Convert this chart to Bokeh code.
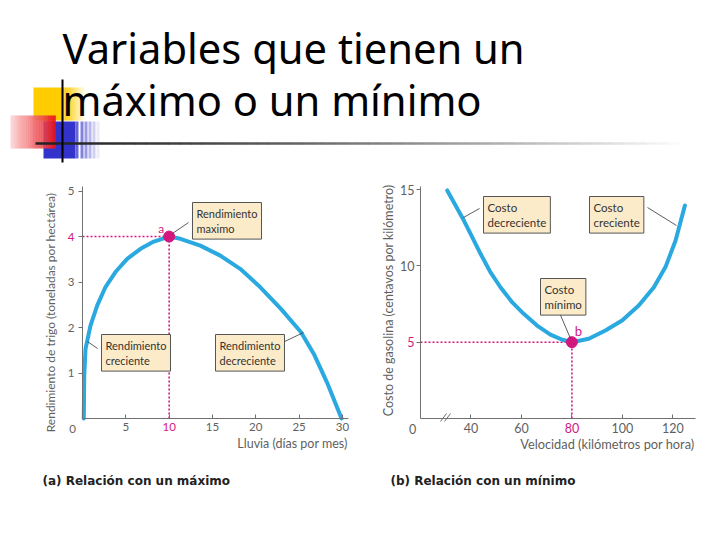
import numpy as np
from bokeh.plotting import figure
from bokeh.layouts import column, row
from bokeh.models import Range1d, Label, FixedTicker, CustomJSTickFormatter
from bokeh.embed import file_html
from bokeh.resources import INLINE
from bokeh.core.properties import value

# ---------------- data ----------------
title_lines = ["Variables que tienen un", "máximo o un mínimo"]
captions = ["(a) Relación con un máximo", "(b) Relación con un mínimo"]

# (a) wheat yield vs rainfall
rain = [0.15, 0.2, 0.35, 0.92, 1.69, 2.65, 3.8, 5.16, 6.7, 8.23, 10.0, 11.3, 13.6, 15.9,
        18.2, 20.5, 22.9, 25.2, 26.7, 28.2, 29.9]
wheat = [0.0, 0.95, 1.53, 2.04, 2.48, 2.89, 3.22, 3.51, 3.73, 3.89, 4.0, 3.95, 3.8, 3.58,
         3.29, 2.89, 2.41, 1.9, 1.42, 0.8, 0.0]
max_rain = [10]
max_wheat = [4]
a_xticks = [5, 10, 15, 20, 25, 30]
a_yticks = [1, 2, 3, 4, 5]
a_xlabel = "Lluvia (días por mes)"
a_ylabel = "Rendimiento de trigo (toneladas por hectárea)"

# (b) gasoline cost vs speed
speed = [30.6, 33.9, 37.2, 40.5, 43.8, 47.7, 51.7, 56.3, 60.9, 66.2, 71.5, 76.2, 80.0,
         86.7, 93.3, 99.9, 106.5, 112.5, 117.1, 121.1, 124.8]
cost = [14.94, 13.96, 12.97, 11.88, 10.79, 9.59, 8.6, 7.62, 6.86, 6.09, 5.5, 5.16, 5.0,
        5.22, 5.77, 6.42, 7.4, 8.6, 9.92, 11.66, 13.96]
min_speed = [80]
min_cost = [5]
b_xticks = [40, 60, 80, 100, 120]
b_yticks = [5, 10, 15]
b_xlabel = "Velocidad (kilómetros por hora)"
b_ylabel = "Costo de gasolina (centavos por kilómetro)"

# ---------------- style ----------------
BLUE = "#2aa8e0"
MAG = "#d2177f"
BOX = "#fcebc9"
GREY = "#5f5f5f"
AXC = "#707070"
TFONT = "Lato"


def hexc(c):
    c = c.lstrip("#")
    return np.array([int(c[i:i + 2], 16) for i in (0, 2, 4)], dtype=float)


def mix(c0, c1, t):
    a, b = hexc(c0), hexc(c1)
    m = a + (b - a) * t
    return "#%02x%02x%02x" % tuple(int(round(v)) for v in m)


def hgrad(p, x0, x1, y0, y1, c0, c1, n=24, alpha=1.0):
    xs = np.linspace(x0, x1, n + 1)
    cols = [mix(c0, c1, t) for t in np.linspace(0, 1, n)]
    p.quad(left=xs[:-1], right=xs[1:] + 0.3, top=y0, bottom=y1,
           fill_color=cols, line_color=None, fill_alpha=alpha)


# ---------------- top (title) ----------------
top = figure(width=728, height=180, x_range=Range1d(0, 728), y_range=Range1d(180, 0),
             output_backend="svg", toolbar_location=None, x_axis_type=None,
             y_axis_type=None, min_border=0)
top.outline_line_color = None

top.quad(left=33, right=64, top=87, bottom=120, fill_color="#ffcc00", line_color=None)
hgrad(top, 64, 86, 87, 120, "#ffcc00", "#ffffff", n=12)
top.quad(left=43, right=75, top=121, bottom=158, fill_color="#3333cc", line_color=None)
for i, xs in enumerate([75, 80, 84, 88, 92, 96]):
    top.quad(left=xs, right=xs + 3, top=121, bottom=158,
             fill_color=mix("#3333cc", "#ffffff", 0.25 + 0.13 * i), line_color=None)
hgrad(top, 10, 55, 115, 148, "#fbd3d3", "#e8141c", n=24, alpha=0.92)
xs_rule = np.linspace(35, 690, 60)
top.segment(x0=xs_rule[:-1], x1=xs_rule[1:] + 0.5, y0=143, y1=143,
            line_color=[mix("#222222", "#ffffff", t ** 1.3) for t in np.linspace(0, 1, 59)],
            line_width=2.5)
top.segment(x0=62, x1=62, y0=79, y1=162, line_color="black", line_width=2)

top.text(x=[62, 62], y=[47, 99], text=title_lines, text_font=value("Noto Sans"),
         text_font_size="41.7px", text_color="black", text_baseline="alphabetic")


# ---------------- chart panels ----------------
# each panel's frame fills the whole figure; axes sit at fixed data positions
def make_fig(width, xr, yr, x0, y0, xb, yb):
    p = figure(width=width, height=275, x_range=Range1d(*xr), y_range=Range1d(*yr),
               output_backend="svg", toolbar_location=None, min_border=0)
    p.outline_line_color = None
    p.grid.visible = False
    p.xaxis.fixed_location = y0
    p.yaxis.fixed_location = x0
    p.xaxis.bounds = xb
    p.yaxis.bounds = yb
    for ax in (p.xaxis, p.yaxis):
        ax.axis_line_color = AXC
        ax.major_tick_line_color = AXC
        ax.minor_tick_line_color = None
        ax.major_label_text_color = GREY
        ax.major_label_text_font = TFONT
        ax.major_label_standoff = 4
    p.xaxis.major_tick_in = 4
    p.xaxis.major_tick_out = 0
    p.yaxis.major_tick_in = 0
    p.yaxis.major_tick_out = 4
    return p


def callout(p, x, y, txt, size="11px"):
    p.add_layout(Label(x=x, y=y, text=txt, text_font=TFONT, text_font_size=size,
                       text_color="#333333", text_align="left", text_baseline="top",
                       background_fill_color=BOX, border_line_color="#555555",
                       border_line_width=1, padding=4))


def lab(p, x, y, txt, size="11.5px", color=GREY, align="center", baseline="middle", angle=0):
    p.add_layout(Label(x=x, y=y, text=txt, text_font=TFONT, text_font_size=size,
                       text_color=color, text_align=align, text_baseline=baseline,
                       angle=angle, angle_units="deg"))


# ---- chart a (page x 0..360, y 180..455)
ax_a = lambda px: (px - 82) / 266 * 30.7
ay_a = lambda py: (418 - py) / 232 * 5.1
pa = make_fig(360, (ax_a(0), ax_a(360)), (ay_a(455), ay_a(180)), 0, 0, (0, 30.7), (0, 5.1))

pa.xaxis.ticker = FixedTicker(ticks=a_xticks)
pa.yaxis.ticker = FixedTicker(ticks=a_yticks)
pa.xaxis.formatter = CustomJSTickFormatter(code="return tick == %d ? '' : String(tick);" % max_rain[0])
pa.yaxis.formatter = CustomJSTickFormatter(code="return tick == %d ? '' : String(tick);" % max_wheat[0])
pa.xaxis.major_label_text_font_size = "11.5px"
pa.yaxis.major_label_text_font_size = "11.5px"

pa.line([0, max_rain[0]], [max_wheat[0], max_wheat[0]], line_color=MAG, line_width=1.6, line_dash="2 2")
pa.line([max_rain[0], max_rain[0]], [0, max_wheat[0]], line_color=MAG, line_width=1.6, line_dash="2 2")
pa.line(rain, wheat, line_color=BLUE, line_width=4, line_join="round", line_cap="round")
pa.scatter(max_rain, max_wheat, size=11, color=MAG)

pa.segment(x0=[ax_a(188), ax_a(97), ax_a(280)], y0=[ay_a(222), ay_a(348), ay_a(343)],
           x1=[ax_a(172), ax_a(87), ax_a(303)], y1=[ay_a(233), ay_a(341), ay_a(332)],
           line_color="#333333", line_width=0.8)

callout(pa, ax_a(192), ay_a(202), "Rendimiento\nmaximo")
callout(pa, ax_a(101), ay_a(334), "Rendimiento\ncreciente")
callout(pa, ax_a(215), ay_a(334), "Rendimiento\ndecreciente")
lab(pa, max_rain[0] - 0.9, max_wheat[0] + 0.17, "a", size="12px", color=MAG)
lab(pa, ax_a(74), max_wheat[0], str(max_wheat[0]), color=MAG, align="right")
lab(pa, max_rain[0], ay_a(422), str(max_rain[0]), color=MAG, baseline="top")
lab(pa, ax_a(72), ay_a(428), "0")
lab(pa, ax_a(347), ay_a(443), a_xlabel, size="12.5px", align="right")
lab(pa, ax_a(50), ay_a(312), a_ylabel, size="12px", angle=90)

# ---- chart b (page x 360..728, y 180..455)
bx = lambda px: 20 + (px - 420) / 275 * 109
by = lambda py: (418 - py) / 232 * 15.2
pb = make_fig(368, (bx(360), bx(728)), (by(455), by(180)), 20, 0, (20, 129), (0, 15.2))

pb.xaxis.ticker = FixedTicker(ticks=b_xticks)
pb.yaxis.ticker = FixedTicker(ticks=b_yticks)
pb.xaxis.formatter = CustomJSTickFormatter(code="return tick == %d ? '' : String(tick);" % min_speed[0])
pb.yaxis.formatter = CustomJSTickFormatter(code="return tick == %d ? '' : String(tick);" % min_cost[0])
pb.xaxis.major_label_text_font_size = "12.5px"
pb.yaxis.major_label_text_font_size = "12.5px"
pb.yaxis.major_label_standoff = 2

pb.line([20, min_speed[0]], [min_cost[0], min_cost[0]], line_color=MAG, line_width=1.6, line_dash="2 2")
pb.line([min_speed[0], min_speed[0]], [0, min_cost[0]], line_color=MAG, line_width=1.6, line_dash="2 2")
pb.line(speed, cost, line_color=BLUE, line_width=4, line_join="round", line_cap="round")
pb.scatter(min_speed, min_cost, size=11, color=MAG)

pb.segment(x0=[bx(479), bx(647), bx(558)], y0=[by(208), by(207), by(310)],
           x1=[bx(463), bx(676), bx(570)], y1=[by(217), by(225), by(338)],
           line_color="#333333", line_width=0.8)

callout(pb, bx(483), by(196), "Costo\ndecreciente", size="11.5px")
callout(pb, bx(589), by(196), "Costo\ncreciente", size="11.5px")
callout(pb, bx(540), by(278), "Costo\nmínimo", size="11.5px")
lab(pb, min_speed[0] + 2.6, min_cost[0] + 0.75, "b", size="13px", color=MAG)
lab(pb, bx(414), min_cost[0], str(min_cost[0]), size="12.5px", color=MAG, align="right")
lab(pb, min_speed[0], by(422), str(min_speed[0]), size="12.5px", color=MAG, baseline="top")
lab(pb, bx(412), by(428), "0", size="12.5px")
# axis break mark
pb.quad(left=bx(442), right=bx(450), top=by(416), bottom=by(420), fill_color="white", line_color=None)
pb.segment(x0=[bx(440), bx(444)], x1=[bx(446), bx(450)], y0=by(421), y1=by(413),
           line_color=AXC, line_width=1)
lab(pb, bx(694), by(443), b_xlabel, size="12.8px", align="right")
lab(pb, bx(388), by(300), b_ylabel, size="12.5px", angle=90)

# ---------------- bottom (captions) ----------------
bot = figure(width=728, height=91, x_range=Range1d(0, 728), y_range=Range1d(91, 0),
             output_backend="svg", toolbar_location=None, x_axis_type=None,
             y_axis_type=None, min_border=0)
bot.outline_line_color = None
bot.text(x=[42, 390], y=[25, 25], text=captions, text_font=value("DejaVu Sans"),
         text_font_size="12px", text_font_style="bold", text_color="#222222",
         text_baseline="middle")

layout = column(top, row(pa, pb), bot)
open("out.html", "w").write(file_html(layout, INLINE))
